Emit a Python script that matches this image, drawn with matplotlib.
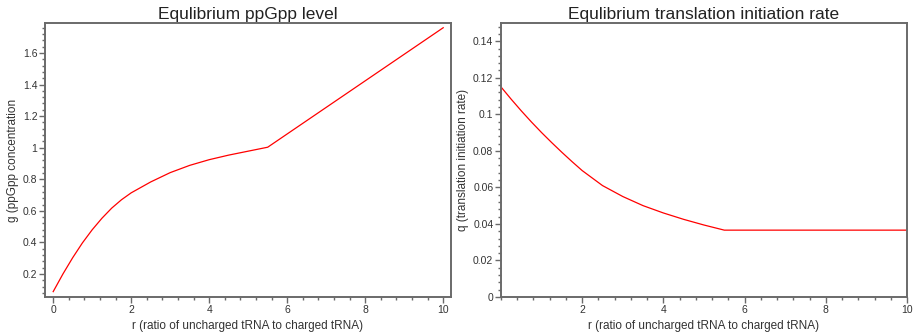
import matplotlib
matplotlib.use("Agg")
import matplotlib.pyplot as plt
from matplotlib.ticker import MultipleLocator, FormatStrFormatter

# values
r_vals = [0, 0.25, 0.5, 0.75, 1.0, 1.25, 1.5, 1.75, 2.0, 2.5, 3.0, 3.5, 4.0, 4.5, 5.0, 5.5, 10.0]
g_vals = [0.088, 0.200, 0.303, 0.397, 0.480, 0.553, 0.617, 0.670, 0.714, 0.783, 0.842,
          0.888, 0.924, 0.953, 0.978, 1.003, 1.76]
q_vals = [0.1150, 0.1083, 0.1019, 0.0958, 0.0900, 0.0845, 0.0792, 0.0741, 0.0692, 0.0610,
          0.0550, 0.0500, 0.0460, 0.0425, 0.0394, 0.0366, 0.0366]

left_xticks = [0, 2, 4, 6, 8, 10]
right_xticks = [2, 4, 6, 8, 10]
xlabel = "r (ratio of uncharged tRNA to charged tRNA)"

plt.rcParams["font.family"] = ["Liberation Sans", "DejaVu Sans"]

fig = plt.figure(figsize=(9.21, 3.32), dpi=100)
ax1 = fig.add_axes([45 / 921, 35 / 332, 406 / 921, 274 / 332])
ax2 = fig.add_axes([501 / 921, 35 / 332, 406 / 921, 274 / 332])

spine_col = "#6a6a6a"
txt_col = "#333333"


def style(ax):
    for s in ax.spines.values():
        s.set_color(spine_col)
        s.set_linewidth(1.4)
    ax.tick_params(which="both", direction="out", colors=txt_col, labelsize=7.5,
                   top=False, right=False, pad=1.5)
    ax.tick_params(which="major", length=4, width=1.0, color=spine_col)
    ax.tick_params(which="minor", length=2.5, width=1.0, color=spine_col)
    ax.xaxis.set_minor_locator(MultipleLocator(0.4))
    ax.yaxis.set_major_formatter(FormatStrFormatter("%g"))
    ax.xaxis.set_major_formatter(FormatStrFormatter("%g"))
    ax.set_xlabel(xlabel, fontsize=8.5, color=txt_col, labelpad=3.5)


# left: ppGpp level
ax1.plot(r_vals, g_vals, color="red", lw=0.9)
ax1.set_xlim(-0.21, 10.2)
ax1.set_ylim(0.054, 1.79)
ax1.set_xticks(left_xticks)
ax1.yaxis.set_major_locator(MultipleLocator(0.2))
ax1.yaxis.set_minor_locator(MultipleLocator(0.04))
style(ax1)
ax1.set_ylabel("g (ppGpp concentration", fontsize=8.5, color=txt_col, labelpad=3)
ax1.set_title("Equlibrium ppGpp level", fontsize=12.5, color="#222222", pad=3)

# right: translation initiation rate
ax2.plot(r_vals, q_vals, color="red", lw=0.9)
ax2.set_xlim(0, 10)
ax2.set_ylim(0, 0.15)
ax2.set_xticks(right_xticks)
ax2.yaxis.set_major_locator(MultipleLocator(0.02))
ax2.yaxis.set_minor_locator(MultipleLocator(0.004))
style(ax2)
ax2.set_ylabel("q (translation initiation rate)", fontsize=8.5, color=txt_col, labelpad=3)
ax2.set_title("Equlibrium translation initiation rate", fontsize=12.5, color="#222222", pad=3)

fig.savefig("out.png", dpi=100)
